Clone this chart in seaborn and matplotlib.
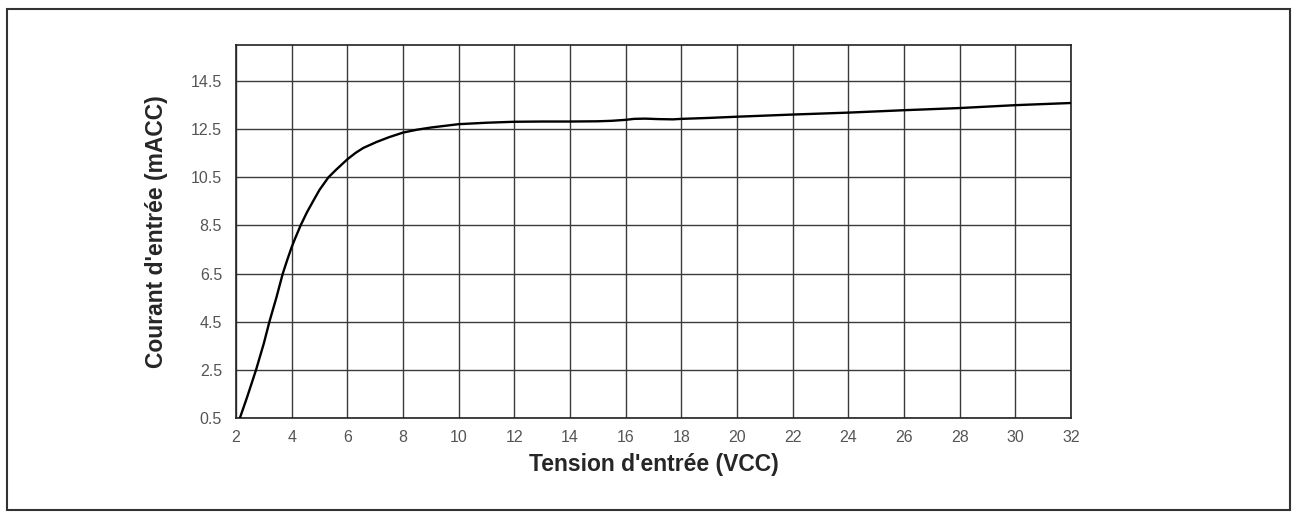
import numpy as np
import pandas as pd
import matplotlib
matplotlib.use("Agg")
import matplotlib.pyplot as plt
from matplotlib.patches import Rectangle
import seaborn as sns

# values
tension = [2.14, 2.4, 2.72, 3.0, 3.2, 3.45, 3.68, 3.85, 4.0, 4.12, 4.32, 4.55,
           4.78, 5.0, 5.32, 5.6, 6.0, 6.3, 6.57, 7.05, 7.5, 8.0, 8.5, 9.0,
           10.0, 11.0, 12.0, 13.0, 14.0, 15.0, 15.5, 16.0, 16.3, 16.7, 17.2,
           17.7, 18.0, 19.0, 20.0, 22.0, 24.0, 26.0, 28.0, 30.0, 32.0]
courant = [0.5, 1.37, 2.5, 3.6, 4.5, 5.5, 6.5, 7.1, 7.6, 7.95, 8.5, 9.05,
           9.53, 9.98, 10.5, 10.82, 11.25, 11.52, 11.72, 11.97, 12.17, 12.36,
           12.48, 12.57, 12.71, 12.77, 12.81, 12.82, 12.82, 12.83, 12.85, 12.89,
           12.93, 12.94, 12.92, 12.91, 12.93, 12.97, 13.02, 13.11, 13.19, 13.29,
           13.38, 13.5, 13.59]

x_ticks = list(range(2, 33, 2))
y_ticks = [0.5, 2.5, 4.5, 6.5, 8.5, 10.5, 12.5, 14.5]

df = pd.DataFrame({"tension": tension, "courant": courant})

sns.set_style("white")
plt.rcParams['font.family'] = ['Liberation Sans', 'DejaVu Sans']

fig = plt.figure(figsize=(12.92, 5.18), dpi=100)
ax = fig.add_axes([236 / 1292, 1 - 418 / 518, (1071 - 236) / 1292, (418 - 45) / 518])

sns.lineplot(data=df, x="tension", y="courant", ax=ax, color="black",
             linewidth=1.7, zorder=3)

ax.set_xlim(2, 32)
ax.set_ylim(0.5, 16.0)
ax.set_xticks(x_ticks)
ax.set_yticks(y_ticks)
ax.set_yticklabels([f"{v:.1f}" for v in y_ticks])
ax.grid(True, color="#3a3a3a", linewidth=1.0)
ax.set_axisbelow(True)
for s in ax.spines.values():
    s.set_color("#222222")
    s.set_linewidth(1.2)
ax.tick_params(axis="x", length=0, labelsize=11.5, labelcolor="#555555", pad=9)
ax.tick_params(axis="y", length=0, labelsize=11.5, labelcolor="#555555", pad=10)

ax.set_xlabel("Tension d'entrée (VCC)", fontsize=16.5, fontweight="bold")
ax.set_ylabel("Courant d'entrée (mACC)", fontsize=16.5, fontweight="bold")
ax.xaxis.set_label_coords(0.5, -0.094)
ax.yaxis.set_label_coords(-0.0814, 0.5)

fig.patches.append(Rectangle((7 / 1292, 1 - 510 / 518), (1290 - 7) / 1292,
                             (510 - 9) / 518, transform=fig.transFigure,
                             fill=False, edgecolor="#333333", linewidth=1.5))

fig.savefig("out.png", dpi=100)
